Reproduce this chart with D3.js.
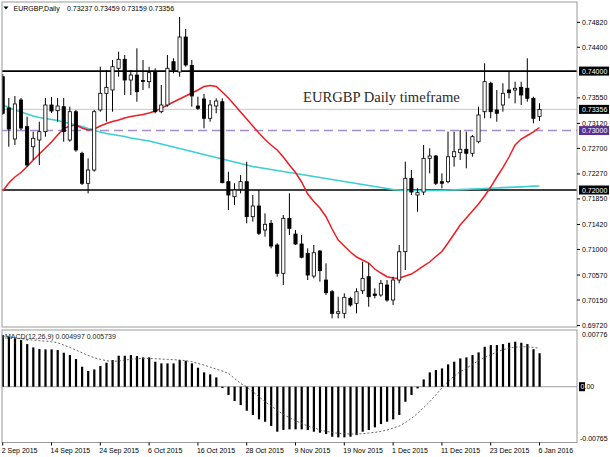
<!DOCTYPE html>
<html>
<head>
<meta charset="utf-8">
<script src="https://cdn.jsdelivr.net/npm/d3@7"></script>
<style>
body { margin: 0; background: #fff; }
svg text { font-family: "Liberation Sans", Arial, sans-serif; font-size: 7px; }
</style>
</head>
<body>
<div id="plot"></div>
<script>
// EURGBP daily bars, 2 Sep 2015 .. 6 Jan 2016
var opens = [0.73906,0.73379,0.72858,0.73514,0.73065,0.72728,0.72841,0.72981,0.73430,0.73334,
    0.73401,0.72841,0.73317,0.72617,0.72113,0.72336,0.73346,0.73626,0.73682,0.74047,
    0.74198,0.73850,0.73934,0.73842,0.73822,0.73985,0.73317,0.73430,0.74158,0.73985,
    0.74573,0.74094,0.73413,0.73531,0.73206,0.73413,0.73485,0.72140,0.71887,0.72012,
    0.72140,0.71551,0.71731,0.71327,0.71440,0.71075,0.70599,0.71524,0.71260,0.71092,
    0.70935,0.70553,0.70974,0.70486,0.70289,0.69926,0.69926,0.70178,0.70094,0.70306,
    0.70542,0.70251,0.70234,0.70402,0.70150,0.70486,0.70962,0.72197,0.71916,0.71966,
    0.72533,0.72572,0.72140,0.72140,0.72560,0.72627,0.72685,0.72617,0.72812,0.73317,
    0.73795,0.73346,0.73430,0.73682,0.73682,0.73727,0.73711,0.73542,0.73237];
var highs = [0.73951,0.73547,0.73581,0.73547,0.73233,0.72981,0.73149,0.73547,0.73564,0.73547,
    0.73547,0.73401,0.73346,0.72644,0.72533,0.73346,0.74074,0.74018,0.74187,0.74326,
    0.74271,0.74018,0.74383,0.74187,0.74074,0.74047,0.73766,0.74271,0.74215,0.74910,
    0.74708,0.74187,0.73569,0.73615,0.73514,0.73542,0.73542,0.72308,0.72113,0.72252,
    0.72476,0.71916,0.72000,0.71608,0.71495,0.71104,0.71580,0.71944,0.71327,0.71243,
    0.71019,0.71075,0.70991,0.70767,0.70318,0.70205,0.70262,0.70205,0.70347,0.70794,
    0.70767,0.70347,0.70486,0.70486,0.70542,0.71075,0.72476,0.72336,0.72029,0.72757,
    0.72701,0.72589,0.72281,0.72981,0.72981,0.73009,0.72981,0.72925,0.73401,0.74131,
    0.73822,0.73682,0.73795,0.73990,0.73822,0.73822,0.74215,0.73569,0.73459];
var lows = [0.73262,0.72728,0.72757,0.73009,0.72387,0.72505,0.72421,0.72897,0.73295,0.73149,
    0.72812,0.72812,0.72644,0.72084,0.71944,0.72308,0.73317,0.73149,0.73317,0.73906,
    0.73598,0.73598,0.73485,0.73682,0.73711,0.73290,0.73290,0.73401,0.73963,0.73906,
    0.74074,0.73401,0.73346,0.73038,0.73149,0.73290,0.72113,0.71664,0.71748,0.71944,
    0.71440,0.71467,0.71243,0.71215,0.71019,0.70542,0.70402,0.71243,0.71075,0.70851,
    0.70486,0.70515,0.70458,0.70234,0.69842,0.69842,0.69842,0.70037,0.69926,0.70251,
    0.70037,0.70178,0.70205,0.70121,0.70066,0.70431,0.70654,0.71916,0.71635,0.71916,
    0.72281,0.72084,0.72029,0.72113,0.72392,0.72505,0.72365,0.72560,0.72785,0.73206,
    0.73206,0.73149,0.73317,0.73542,0.73458,0.73430,0.73485,0.73122,0.73159];
var closes = [0.73290,0.73026,0.73447,0.73043,0.72421,0.72870,0.72981,0.73430,0.73329,0.73413,
    0.72981,0.73317,0.72673,0.72113,0.72336,0.73317,0.73626,0.73727,0.74074,0.74198,
    0.73850,0.73934,0.73653,0.73825,0.73973,0.73317,0.73430,0.74047,0.74018,0.74573,
    0.74103,0.73581,0.73374,0.73206,0.73430,0.73497,0.72123,0.71916,0.72000,0.72140,
    0.71551,0.71731,0.71272,0.71423,0.71058,0.70599,0.71524,0.71356,0.71092,0.70868,
    0.70570,0.70945,0.70643,0.70273,0.69926,0.69953,0.70195,0.70066,0.70289,0.70515,
    0.70205,0.70225,0.70431,0.70150,0.70486,0.70962,0.72197,0.71966,0.71955,0.72533,
    0.72572,0.72113,0.72113,0.72560,0.72644,0.72685,0.72617,0.72897,0.73262,0.73822,
    0.73317,0.73290,0.73626,0.73637,0.73711,0.73598,0.73542,0.73206,0.73356];

// red (fast) and turquoise (slow) moving averages
var maFast = [0.71983,0.72118,0.72219,0.72294,0.72395,0.72505,0.72606,0.72706,0.72807,0.72925,
    0.73034,0.73076,0.73093,0.73043,0.73009,0.73026,0.73076,0.73119,0.73152,0.73177,
    0.73211,0.73236,0.73253,0.73270,0.73295,0.73329,0.73374,0.73430,0.73480,0.73531,
    0.73581,0.73632,0.73682,0.73741,0.73758,0.73741,0.73648,0.73547,0.73430,0.73312,
    0.73194,0.73076,0.72959,0.72849,0.72757,0.72673,0.72555,0.72421,0.72294,0.72135,
    0.71933,0.71807,0.71697,0.71551,0.71344,0.71159,0.71058,0.70957,0.70873,0.70823,
    0.70772,0.70671,0.70604,0.70542,0.70520,0.70515,0.70553,0.70587,0.70654,0.70722,
    0.70789,0.70881,0.70966,0.71109,0.71260,0.71411,0.71529,0.71647,0.71764,0.71899,
    0.72050,0.72219,0.72378,0.72555,0.72757,0.72858,0.72917,0.72976,0.73051];
var maSlow = [0.73430,0.73388,0.73346,0.73312,0.73278,0.73245,0.73219,0.73203,0.73186,0.73169,
    0.73144,0.73119,0.73093,0.73068,0.73034,0.73001,0.72976,0.72950,0.72934,0.72917,
    0.72900,0.72875,0.72858,0.72841,0.72824,0.72799,0.72774,0.72748,0.72723,0.72698,
    0.72673,0.72648,0.72622,0.72597,0.72572,0.72547,0.72521,0.72496,0.72471,0.72446,
    0.72421,0.72395,0.72378,0.72362,0.72345,0.72328,0.72311,0.72294,0.72278,0.72261,
    0.72244,0.72227,0.72210,0.72193,0.72177,0.72160,0.72143,0.72126,0.72109,0.72093,
    0.72076,0.72059,0.72042,0.72025,0.72008,0.72000,0.71992,0.71992,0.71992,0.71992,
    0.71992,0.71992,0.71995,0.72000,0.72003,0.72008,0.72012,0.72017,0.72020,0.72025,
    0.72030,0.72034,0.72039,0.72044,0.72049,0.72054,0.72059,0.72064,0.72067];

// MACD(12,26,9): main histogram and signal
var macdMain = [0.00770,0.00746,0.00721,0.00696,0.00636,0.00586,0.00562,0.00557,0.00557,0.00547,
    0.00507,0.00472,0.00413,0.00298,0.00234,0.00258,0.00308,0.00358,0.00398,0.00462,
    0.00462,0.00472,0.00457,0.00437,0.00437,0.00373,0.00348,0.00348,0.00348,0.00398,
    0.00388,0.00348,0.00283,0.00214,0.00184,0.00139,-0.00020,-0.00124,-0.00214,-0.00273,
    -0.00358,-0.00422,-0.00487,-0.00522,-0.00586,-0.00671,-0.00646,-0.00636,-0.00636,-0.00636,
    -0.00646,-0.00671,-0.00686,-0.00706,-0.00746,-0.00755,-0.00755,-0.00746,-0.00721,-0.00671,
    -0.00646,-0.00606,-0.00557,-0.00522,-0.00487,-0.00422,-0.00224,-0.00124,-0.00025,0.00109,
    0.00214,0.00249,0.00273,0.00333,0.00373,0.00422,0.00437,0.00472,0.00512,0.00596,
    0.00621,0.00621,0.00636,0.00656,0.00671,0.00656,0.00636,0.00560,0.004997];
var macdSignal = [0.00755,0.00746,0.00731,0.00716,0.00706,0.00696,0.00686,0.00681,0.00671,0.00656,
    0.00621,0.00586,0.00547,0.00507,0.00467,0.00432,0.00408,0.00388,0.00378,0.00383,
    0.00398,0.00408,0.00417,0.00422,0.00422,0.00417,0.00413,0.00408,0.00403,0.00398,
    0.00388,0.00373,0.00348,0.00323,0.00293,0.00263,0.00234,0.00199,0.00124,0.00050,
    0.00000,-0.00075,-0.00149,-0.00224,-0.00288,-0.00348,-0.00413,-0.00462,-0.00507,-0.00547,
    -0.00586,-0.00611,-0.00646,-0.00666,-0.00681,-0.00696,-0.00701,-0.00706,-0.00706,-0.00701,
    -0.00691,-0.00681,-0.00666,-0.00646,-0.00616,-0.00586,-0.00537,-0.00472,-0.00398,-0.00313,
    -0.00224,-0.00124,-0.00015,0.00075,0.00159,0.00224,0.00273,0.00333,0.00388,0.00437,
    0.00477,0.00517,0.00552,0.00577,0.00591,0.00596,0.00596,0.00586,0.005739];

var dateLabels = ["2 Sep 2015","14 Sep 2015","24 Sep 2015","6 Oct 2015","16 Oct 2015","28 Oct 2015",
    "9 Nov 2015","19 Nov 2015","1 Dec 2015","11 Dec 2015","23 Dec 2015","6 Jan 2016"];
var dateBars = [0,8,16,24,32,40,48,56,64,72,80,88];
var priceTicks = [0.74820,0.74400,0.73550,0.73120,0.72700,0.72270,0.71850,0.71420,0.71000,0.70570,0.70150,0.69720];
var levelLines = [0.74000, 0.72000];
var dashLevel = 0.73000;
var lastPrice = 0.73356;
var macdTicks = [0.00776, -0.00765];

var W = 610, H = 457,
    left = 2, right = 577,
    mainTop = 2, mainBot = 327,
    macdTop = 330, macdBot = 442.5;

var x = d3.scaleLinear().domain([0, 88]).range([2.7, 539.5]);
var y = d3.scaleLinear().domain([0.69696, 0.75162]).range([mainBot, mainTop]);
var ym = d3.scaleLinear().domain([-0.00765, 0.00776]).range([438, 334.7]);

var svg = d3.select("#plot").append("svg")
    .attr("width", W)
    .attr("height", H);

svg.append("rect").attr("width", W).attr("height", H).attr("fill", "#fff");

var defs = svg.append("defs");
defs.append("clipPath").attr("id", "clipMain").append("rect")
    .attr("x", left).attr("y", mainTop).attr("width", right - left).attr("height", mainBot - mainTop);
defs.append("clipPath").attr("id", "clipMacd").append("rect")
    .attr("x", left).attr("y", macdTop).attr("width", right - left).attr("height", macdBot - macdTop);

var main = svg.append("g").attr("clip-path", "url(#clipMain)");

// current price line
main.append("line")
    .attr("x1", left).attr("x2", right)
    .attr("y1", y(lastPrice)).attr("y2", y(lastPrice))
    .attr("stroke", "#c8c8c8").attr("stroke-width", 1);

// support / resistance
main.selectAll(".lvl").data(levelLines).enter().append("line")
    .attr("x1", left).attr("x2", right)
    .attr("y1", function(d) { return y(d); }).attr("y2", function(d) { return y(d); })
    .attr("stroke", "#000").attr("stroke-width", 1.6);

main.append("line")
    .attr("x1", left).attr("x2", right)
    .attr("y1", y(dashLevel)).attr("y2", y(dashLevel))
    .attr("stroke", "#a58fcb").attr("stroke-width", 1.5)
    .attr("stroke-dasharray", "9,5");

svg.append("text")
    .attr("x", 303).attr("y", 101.5)
    .style("font-family", "'Liberation Serif', 'Times New Roman', serif")
    .style("font-size", "14.6px")
    .attr("fill", "#2a2a2a")
    .text("EURGBP Daily timeframe");

// moving averages
var lineOf = function(arr) {
    return d3.line()
        .x(function(d, i) { return x(i); })
        .y(function(d) { return y(d); })(arr);
};
main.append("path").attr("d", lineOf(maSlow))
    .attr("fill", "none").attr("stroke", "#3ccfcf").attr("stroke-width", 1.7);
main.append("path").attr("d", lineOf(maFast))
    .attr("fill", "none").attr("stroke", "#ee1c24").attr("stroke-width", 1.5);

// candles
var bars = main.append("g").selectAll("g")
    .data(d3.range(opens.length)).enter()
    .append("g");
bars.append("line")
    .attr("x1", function(i) { return x(i); })
    .attr("x2", function(i) { return x(i); })
    .attr("y1", function(i) { return y(highs[i]); })
    .attr("y2", function(i) { return y(lows[i]); })
    .attr("stroke", "#000").attr("stroke-width", 1);
bars.append("rect")
    .attr("x", function(i) { return x(i) - 1.6; })
    .attr("width", 3.2)
    .attr("y", function(i) { return y(Math.max(opens[i], closes[i])); })
    .attr("height", function(i) { return Math.max(0.8, Math.abs(y(opens[i]) - y(closes[i]))); })
    .attr("fill", function(i) { return closes[i] >= opens[i] ? "#fff" : "#000"; })
    .attr("stroke", "#000").attr("stroke-width", 0.8);

// MACD panel
var mp = svg.append("g").attr("clip-path", "url(#clipMacd)");
mp.append("line")
    .attr("x1", left).attr("x2", right)
    .attr("y1", ym(0)).attr("y2", ym(0))
    .attr("stroke", "#a0a0a0").attr("stroke-width", 1);
mp.selectAll(".hb").data(macdMain).enter().append("rect")
    .attr("x", function(d, i) { return x(i) - 1; })
    .attr("width", 2.2)
    .attr("y", function(d) { return Math.min(ym(d), ym(0)); })
    .attr("height", function(d) { return Math.abs(ym(d) - ym(0)); })
    .attr("fill", "#000");
mp.append("path")
    .attr("d", d3.line().x(function(d, i) { return x(i); }).y(function(d) { return ym(d); })(macdSignal))
    .attr("fill", "none").attr("stroke", "#555").attr("stroke-width", 0.9)
    .attr("stroke-dasharray", "2,2");

svg.append("text").attr("x", 5).attr("y", 338.5).attr("fill", "#222")
    .text("MACD(12,26,9) 0.004997 0.005739");

// frames
var frame = svg.append("g").attr("fill", "none").attr("stroke", "#9a9a9a").attr("stroke-width", 1);
frame.append("rect").attr("x", left).attr("y", mainTop).attr("width", right - left).attr("height", mainBot - mainTop);
frame.append("rect").attr("x", left).attr("y", macdTop).attr("width", right - left).attr("height", macdBot - macdTop);

// header
svg.append("path").attr("d", "M3.5,6.5 L8.5,6.5 L6,9.5 Z").attr("fill", "#000");
svg.append("text").attr("x", 13.5).attr("y", 10.5).attr("fill", "#000").text("EURGBP,Daily");
svg.append("text").attr("x", 67).attr("y", 10.5).attr("fill", "#000")
    .text([opens[88], highs[88], lows[88], closes[88]].map(function(v) { return v.toFixed(5); }).join(" "));

// price axis
var ax = svg.append("g");
ax.selectAll(".pt").data(priceTicks).enter().append("line")
    .attr("x1", right).attr("x2", right + 3)
    .attr("y1", function(d) { return y(d); }).attr("y2", function(d) { return y(d); })
    .attr("stroke", "#000");
ax.selectAll(".pl").data(priceTicks).enter().append("text")
    .attr("x", 582).attr("y", function(d) { return y(d) + 2.5; })
    .attr("fill", "#000")
    .text(function(d) { return d.toFixed(5); });

var boxes = [
    {v: levelLines[0], c: "#000"},
    {v: lastPrice, c: "#000"},
    {v: dashLevel, c: "#5b2e91"},
    {v: levelLines[1], c: "#000"}
];
var bx = ax.selectAll(".bx").data(boxes).enter().append("g");
bx.append("rect")
    .attr("x", 579).attr("width", 30)
    .attr("y", function(d) { return y(d.v) - 4.5; }).attr("height", 9)
    .attr("fill", function(d) { return d.c; });
bx.append("text")
    .attr("x", 582).attr("y", function(d) { return y(d.v) + 2.5; })
    .attr("fill", "#fff")
    .text(function(d) { return d.v.toFixed(5); });

// MACD axis
ax.selectAll(".ml").data(macdTicks).enter().append("text")
    .attr("x", function(d) { return d < 0 ? 580 : 582; })
    .attr("y", function(d) { return ym(d) + 2.5; })
    .attr("fill", "#000")
    .text(function(d) { return d.toFixed(5); });
ax.append("rect").attr("x", 579).attr("y", ym(0) - 4.5).attr("width", 6).attr("height", 9).attr("fill", "#000");
ax.append("text").attr("x", 580.5).attr("y", ym(0) + 2.5).attr("fill", "#fff").text("0");
ax.append("text").attr("x", 584.5).attr("y", ym(0) + 2.5).attr("fill", "#000").text(".00");

// time axis
var tx = svg.append("g");
tx.selectAll("line").data(dateBars).enter().append("line")
    .attr("x1", function(d) { return x(d); }).attr("x2", function(d) { return x(d); })
    .attr("y1", macdBot).attr("y2", macdBot + 3)
    .attr("stroke", "#000");
tx.selectAll("text").data(dateBars).enter().append("text")
    .attr("x", function(d) { return x(d) - 1; })
    .attr("y", 453)
    .attr("fill", "#000")
    .text(function(d, i) { return dateLabels[i]; });
</script>
</body>
</html>
